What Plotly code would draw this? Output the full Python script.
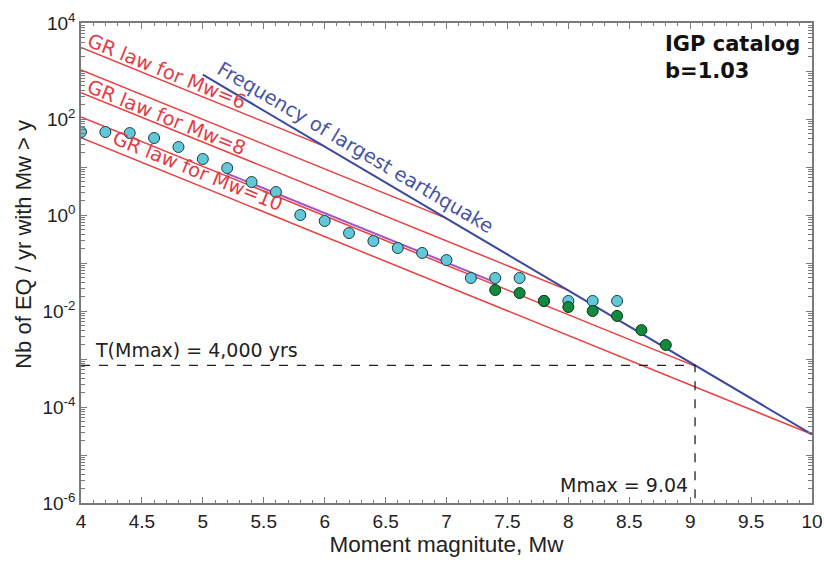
import numpy as np
import plotly.graph_objects as go

# ---------------- data ----------------
# IGP catalog: cumulative annual rate of events with Mw > M
cat_M = [4.0, 4.2, 4.4, 4.6, 4.8, 5.0, 5.2, 5.4, 5.6, 5.8, 6.0, 6.2, 6.4, 6.6,
         6.8, 7.0, 7.2, 7.4, 7.6, 7.8, 8.0, 8.2, 8.4]
cat_N = [53.6, 53.6, 51.0, 40.2, 26.1, 14.7, 9.5, 4.87, 3.01, 1.0, 0.75, 0.42,
         0.287, 0.205, 0.162, 0.115, 0.0487, 0.0487, 0.0487, 0.0162, 0.0162,
         0.0162, 0.0162]

# second (green) catalog points
big_M = [7.4, 7.6, 7.8, 8.0, 8.2, 8.4, 8.6, 8.8]
big_N = [0.0274, 0.0237, 0.0162, 0.0121, 0.0100, 0.0079, 0.0040, 0.00196]

# b-value and Gutenberg-Richter lines (each ends on the largest-EQ line)
b_value = 1.03
gr_mmax = [6.0, 7.0, 8.0, 9.04, 10.0]
gr_N_end = [26.9, 0.851, 0.0269, 7.1e-4, 2.69e-5]

# frequency of largest earthquake line
largest_M = [5.0, 10.0]
largest_N = [840.0, 2.69e-5]

# fit line through catalog
fit_M = [5.2, 7.4]
fit_N = [7.3, 0.0395]

Mmax = 9.04
T_label = "T(Mmax) = 4,000 yrs"

xticks = [4, 4.5, 5, 5.5, 6, 6.5, 7, 7.5, 8, 8.5, 9, 9.5, 10]
ydecades = list(range(-6, 5))

RED = "#e8403f"
RED_TXT = "#e23c46"
BLUE = "#3b4aa0"
BLUE_TXT = "#4753a3"
AX = "#7a7a7a"

fig = go.Figure()

# GR lines
for mm, ne in zip(gr_mmax, gr_N_end):
    n4 = ne * 10 ** (b_value * (mm - 4.0))
    fig.add_trace(go.Scatter(x=[4.0, mm], y=[n4, ne], mode="lines",
                             line=dict(color=RED, width=1.5),
                             showlegend=False, hoverinfo="skip"))

# fit line (purple), just above one GR line
fig.add_trace(go.Scatter(x=fit_M, y=fit_N, mode="lines",
                         line=dict(color="#a454c4", width=2),
                         showlegend=False, hoverinfo="skip"))

# frequency of largest earthquake
fig.add_trace(go.Scatter(x=largest_M, y=largest_N, mode="lines",
                         line=dict(color=BLUE, width=2),
                         showlegend=False, hoverinfo="skip"))

# Mmax dashed guide lines
slope = (np.log10(largest_N[1]) - np.log10(largest_N[0])) / (largest_M[1] - largest_M[0])
n_mmax = 10 ** (np.log10(largest_N[0]) + slope * (Mmax - largest_M[0]))
fig.add_trace(go.Scatter(x=[4.0, Mmax, Mmax], y=[n_mmax, n_mmax, 1e-6], mode="lines",
                         line=dict(color="#222222", width=1.3, dash="dash"),
                         showlegend=False, hoverinfo="skip"))

# catalog points
fig.add_trace(go.Scatter(x=cat_M, y=cat_N, mode="markers",
                         marker=dict(size=11, color="#62c7d7",
                                     line=dict(color="#1c3f46", width=1)),
                         showlegend=False))
fig.add_trace(go.Scatter(x=big_M, y=big_N, mode="markers",
                         marker=dict(size=11, color="#12893d",
                                     line=dict(color="#0b3a1c", width=1)),
                         showlegend=False))

ann_font = "DejaVu Sans, Verdana, sans-serif"
ang_gr = 22.1
ang_bl = 30.6
fig.add_annotation(x=4.70, y=2.98, text="GR law for Mw=6", textangle=ang_gr,
                   showarrow=False, font=dict(family=ann_font, size=19.5, color=RED_TXT))
fig.add_annotation(x=4.70, y=2.03, text="GR law for Mw=8", textangle=ang_gr,
                   showarrow=False, font=dict(family=ann_font, size=19.5, color=RED_TXT))
fig.add_annotation(x=4.96, y=0.90, text="GR law for Mw=10", textangle=ang_gr,
                   showarrow=False, font=dict(family=ann_font, size=19.5, color=RED_TXT))
fig.add_annotation(x=6.25, y=1.40, text="Frequency of largest earthquake", textangle=ang_bl,
                   showarrow=False, font=dict(family=ann_font, size=19.5, color=BLUE_TXT))
fig.add_annotation(x=8.78, y=3.85, text="<b>IGP catalog<br>b=1.03</b>", align="left",
                   xanchor="left", yanchor="top", showarrow=False,
                   font=dict(family=ann_font, size=21, color="#111111"))
fig.add_annotation(x=4.10, y=-2.81, text=T_label, xanchor="left", yanchor="middle",
                   showarrow=False, font=dict(family=ann_font, size=19, color="#222222"))
fig.add_annotation(x=9.0, y=-5.62, text="Mmax = %.2f" % Mmax, xanchor="right",
                   yanchor="middle", showarrow=False,
                   font=dict(family=ann_font, size=19, color="#222222"))

# y-axis title as a positioned annotation
fig.add_annotation(xref="paper", yref="paper", x=-0.078, y=0.54,
                   text="Nb of EQ / yr with Mw > y", textangle=-90,
                   showarrow=False, xanchor="center", yanchor="middle",
                   font=dict(family="Liberation Sans, Arial, sans-serif", size=22, color="#222222"))

yminor = [m * 10.0 ** d for d in range(-6, 4) for m in range(2, 10)]
ytext = [("10<sup>%s</sup>" % (str(d) if d >= 0 else "-" + str(-d))) if d % 2 == 0 else ""
         for d in ydecades]

axfont = "Liberation Sans, Arial, sans-serif"
fig.update_layout(
    width=824, height=563,
    margin=dict(l=81, r=12, t=23, b=60),
    paper_bgcolor="white", plot_bgcolor="white",
    font=dict(family=axfont, size=19, color="#222222"),
    xaxis=dict(range=[4, 10], tickmode="array", tickvals=xticks,
               ticktext=[("%g" % v) for v in xticks],
               ticks="inside", ticklen=6, tickcolor=AX, tickwidth=1,
               showline=True, linecolor=AX, linewidth=1.5, mirror="ticks",
               showgrid=False, zeroline=False, automargin=False,
               minor=dict(dtick=0.1, ticks="inside", ticklen=3, tickcolor=AX, showgrid=False),
               title=dict(text="Moment magnitute, Mw", font=dict(size=22.5), standoff=6),
               tickfont=dict(size=19)),
    yaxis=dict(type="log", range=[-6, 4], tickmode="array",
               tickvals=[10.0 ** d for d in ydecades], ticktext=ytext,
               ticks="inside", ticklen=6, tickcolor=AX, tickwidth=1,
               showline=True, linecolor=AX, linewidth=1.5, mirror="ticks",
               showgrid=False, zeroline=False, automargin=False,
               minor=dict(tickvals=yminor, ticks="inside", ticklen=4, tickcolor=AX, showgrid=False),
               tickfont=dict(size=19)),
)

fig.write_html("out.html")
